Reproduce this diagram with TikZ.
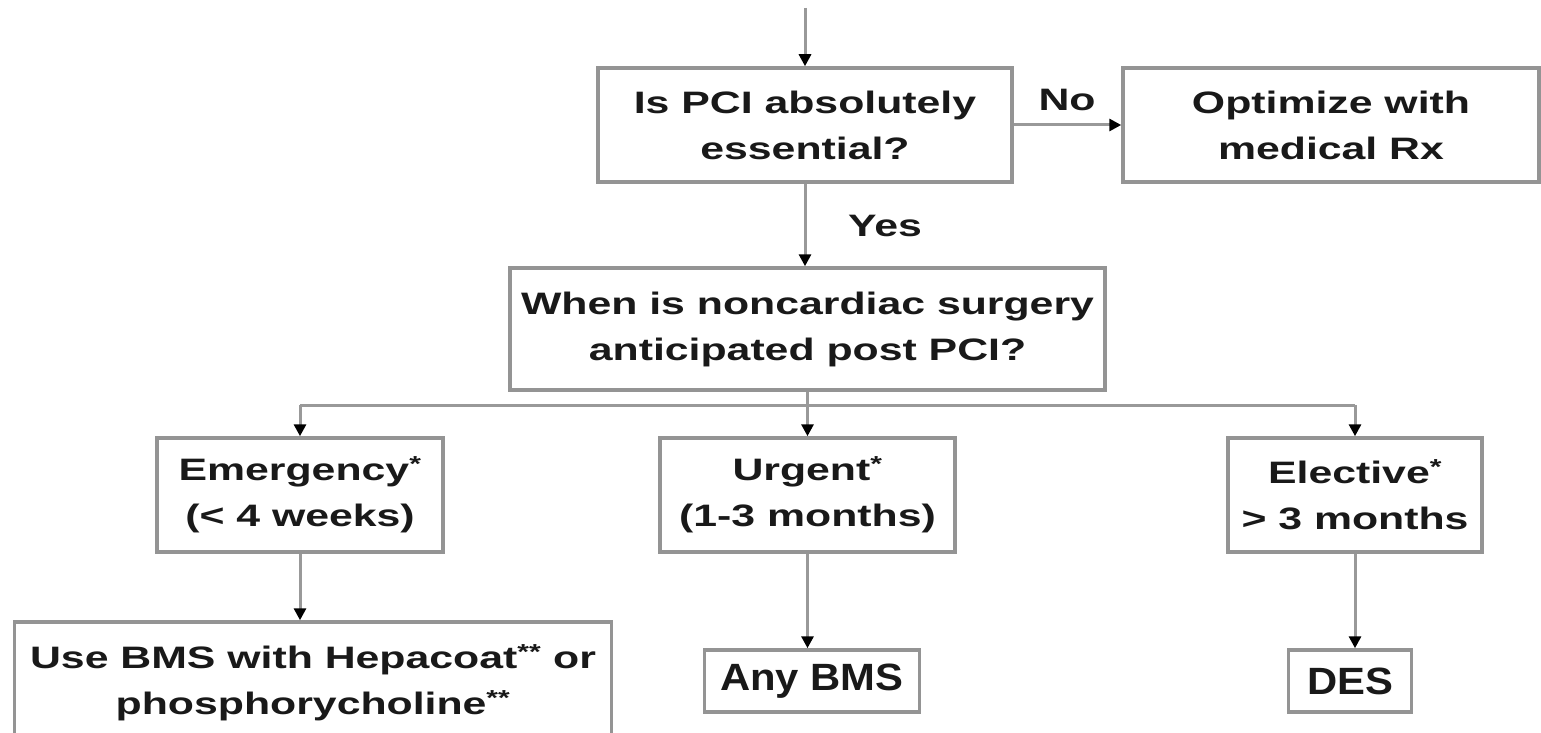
\documentclass[tikz,border=0pt]{standalone}
\usepackage{fontspec}
\setmainfont{Liberation Sans}
\newfontfamily\widefont{Liberation Sans}[FakeStretch=1.38]
\newfontfamily\narrowfont{Liberation Sans}[FakeStretch=1.1]
\usetikzlibrary{arrows.meta}
\definecolor{boxgray}{gray}{0.58}
\definecolor{linegray}{gray}{0.6}
\definecolor{inkcol}{gray}{0.1}
\tikzset{
 stepbox/.style={draw=boxgray, line width=3.5pt, align=center, inner sep=0pt, text=inkcol,
   font=\widefont\bfseries\fontsize{31}{46}\selectfont},
 smallbox/.style={stepbox, font=\narrowfont\bfseries\fontsize{38}{46}\selectfont},
 lbl/.style={text=inkcol, inner sep=0pt, font=\widefont\bfseries\fontsize{31}{46}\selectfont},
 conn/.style={draw=linegray, line width=3pt, -{Triangle[length=12pt,width=12pt,color=black]}},
 plainline/.style={draw=linegray, line width=3pt},
}
\begin{document}
\begin{tikzpicture}[x=1pt,y=-1pt]
\clip (0,0) rectangle (1541,733);
\fill[white] (0,0) rectangle (1541,733);
% nodes
\node[stepbox, minimum width=414pt, minimum height=114pt] (q1) at (805,125) {Is PCI absolutely\\essential?};
\node[stepbox, minimum width=416pt, minimum height=114pt] (opt) at (1331,125) {Optimize with\\medical Rx};
\node[stepbox, minimum width=595pt, minimum height=122pt] (when) at (807.5,329) {When is noncardiac surgery\\anticipated post PCI?};
\node[stepbox, minimum width=286pt, minimum height=114pt] (emerg) at (300,495) {Emergency\textsuperscript{*}\\(< 4 weeks)};
\node[stepbox, minimum width=295pt, minimum height=114pt] (urg) at (807.5,495) {Urgent\textsuperscript{*}\\(1-3 months)};
\node[stepbox, minimum width=254pt, minimum height=114pt] (elec) at (1355,495) {Elective\textsuperscript{*}\\> 3 months};
\node[stepbox, minimum width=597pt, minimum height=122pt] (use) at (313,683) {Use BMS with Hepacoat\textsuperscript{**} or\\phosphorycholine\textsuperscript{**}};
\node[smallbox, minimum width=215pt, minimum height=62pt] (any) at (812,681) {Any BMS};
\node[smallbox, minimum width=123pt, minimum height=62pt] (des) at (1350,681) {DES};
\node[lbl] (no) at (1067,100) {No};
\node[lbl] (yes) at (885,226) {Yes};
% connectors
\coordinate (start) at (805,8);
\coordinate (br) at (807.5,405);
\draw[conn] (start) -- (q1.north);
\draw[conn] (q1.east) -- (opt.west);
\draw[conn] (q1.south) -- (q1.south |- when.north);
\draw[plainline] (when.south) -- (br);
\draw[plainline] (emerg.north |- br) -- (elec.north |- br);
\draw[conn] (emerg.north |- br) -- (emerg.north);
\draw[conn] (br) -- (urg.north);
\draw[conn] (elec.north |- br) -- (elec.north);
\draw[conn] (emerg.south) -- (emerg.south |- use.north);
\draw[conn] (urg.south) -- (urg.south |- any.north);
\draw[conn] (elec.south) -- (elec.south |- des.north);
\end{tikzpicture}
\end{document}
